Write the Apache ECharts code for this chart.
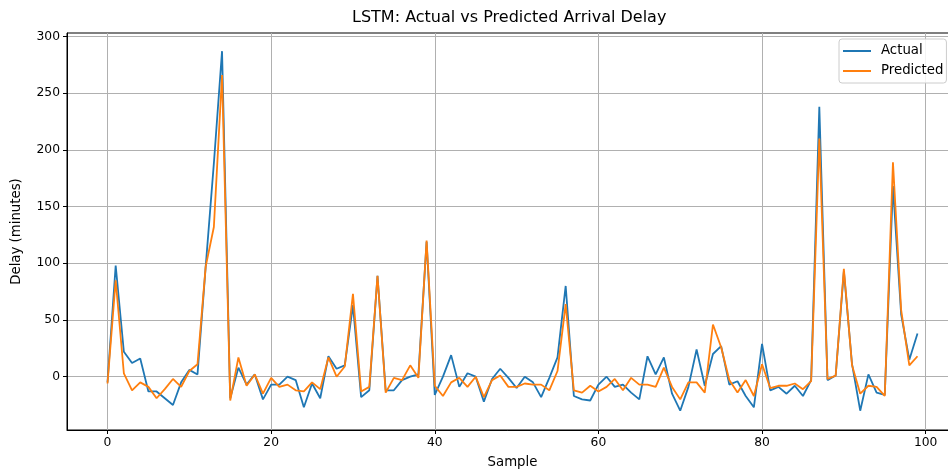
<!DOCTYPE html>
<html>
<head>
<meta charset="utf-8">
<script src="https://cdn.jsdelivr.net/npm/echarts@6/dist/echarts.min.js"></script>
<style>
html,body{margin:0;padding:0;background:#fff;}
#chart{width:948px;height:470px;}
</style>
</head>
<body>
<div id="chart"></div>
<script>
// Data
const actual = [
  -5, 98, 22, 12, 16, -13, -13, -19, -25, -5,
  6, 2, 97, 188, 287, -19, 8, -7, 2, -20,
  -7, -7, 0, -3, -27, -6, -19, 18, 7, 10,
  63, -18, -12, 89, -12, -12, -3, 0, 2, 119,
  -16, 0, 19, -9, 3, 0, -22, -2, 7, -1,
  -10, 0, -5, -18, -1, 17, 80, -17, -20, -21,
  -7, 0, -9, -7, -14, -20, 18, 2, 17, -15,
  -30, -9, 24, -8, 20, 27, -7, -4, -17, -27,
  29, -12, -9, -15, -8, -17, -3, 238, -3, 1,
  93, 11, -30, 2, -14, -16, 168, 55, 15, 38
];
const predicted = [
  -6, 85, 3, -12, -5, -9, -19, -11, -2, -9,
  5, 11, 97, 132, 266, -21, 17, -8, 2, -15,
  -1, -9, -7, -12, -13, -5, -11, 17, 0, 9,
  73, -13, -9, 89, -14, -1, -3, 10, -1, 120,
  -8, -17, -5, -1, -9, 0, -18, -3, 1, -9,
  -9, -6, -7, -7, -12, 5, 64, -12, -14, -8,
  -13, -9, -2, -12, -1, -7, -7, -9, 8, -9,
  -20, -5, -5, -14, 46, 26, -3, -14, -3, -17,
  11, -10, -8, -8, -6, -11, -4, 210, -2, 1,
  95, 10, -15, -8, -9, -17, 189, 59, 10, 18
];
const xTicks = [0, 20, 40, 60, 80, 100];
const yTicks = [0, 50, 100, 150, 200, 250, 300];
const seriesNames = ['Actual', 'Predicted'];
const colors = ['#1f77b4', '#ff7f0e'];

const FONT = 'DejaVu Sans';
const chart = echarts.init(document.getElementById('chart'), null, {renderer: 'canvas'});

const toPairs = arr => arr.map((v, i) => [i, v]);

chart.setOption({
  animation: false,
  backgroundColor: '#fff',
  title: {
    text: 'LSTM: Actual vs Predicted Arrival Delay',
    left: 347,
    top: 5,
    textStyle: {fontFamily: FONT, fontSize: 16, fontWeight: 'normal', color: '#000'}
  },
  legend: {
    orient: 'vertical',
    left: 839,
    top: 39,
    padding: [5, 3, 5, 4],
    itemGap: 6,
    itemWidth: 28,
    itemHeight: 2,
    icon: 'rect',
    backgroundColor: 'rgba(255,255,255,0.85)',
    borderColor: '#cccccc',
    borderWidth: 1,
    borderRadius: 3,
    textStyle: {fontFamily: FONT, fontSize: 13.3, color: '#000', lineHeight: 14, padding: [0, 0, 0, 5]},
    data: seriesNames
  },
  grid: {
    left: 67,
    top: 33,
    bottom: 40,
    right: -10,
    outerBoundsMode: 'none',
    containLabel: false,
    show: true,
    borderColor: '#000',
    borderWidth: 1,
    backgroundColor: 'transparent'
  },
  xAxis: {
    type: 'value',
    min: -4.95,
    max: 103.95,
    name: 'Sample',
    nameLocation: 'middle',
    nameGap: 26,
    nameTextStyle: {fontFamily: FONT, fontSize: 13.3, color: '#000'},
    axisLine: {show: true, onZero: false, lineStyle: {color: '#000', width: 1}},
    axisTick: {show: true, inside: false, length: 4, lineStyle: {color: '#000'}, customValues: xTicks},
    axisLabel: {fontFamily: FONT, fontSize: 12.3, color: '#000', margin: 7, customValues: xTicks},
    splitLine: {show: true, lineStyle: {color: '#b0b0b0', width: 1}}
  },
  yAxis: {
    type: 'value',
    min: -47,
    max: 303,
    name: 'Delay (minutes)',
    nameLocation: 'middle',
    nameGap: 44,
    nameTextStyle: {fontFamily: FONT, fontSize: 13.3, color: '#000'},
    axisLine: {show: true, onZero: false, lineStyle: {color: '#000', width: 1}},
    axisTick: {show: true, inside: false, length: 4, lineStyle: {color: '#000'}, customValues: yTicks},
    axisLabel: {fontFamily: FONT, fontSize: 12.3, color: '#000', margin: 7, customValues: yTicks},
    splitLine: {show: true, lineStyle: {color: '#b0b0b0', width: 1}}
  },
  series: [
    {
      name: seriesNames[0],
      type: 'line',
      data: toPairs(actual),
      symbol: 'none',
      lineStyle: {color: colors[0], width: 1.8},
      itemStyle: {color: colors[0]},
      z: 2
    },
    {
      name: seriesNames[1],
      type: 'line',
      data: toPairs(predicted),
      symbol: 'none',
      lineStyle: {color: colors[1], width: 1.8},
      itemStyle: {color: colors[1]},
      z: 3
    }
  ]
});
</script>
</body>
</html>
